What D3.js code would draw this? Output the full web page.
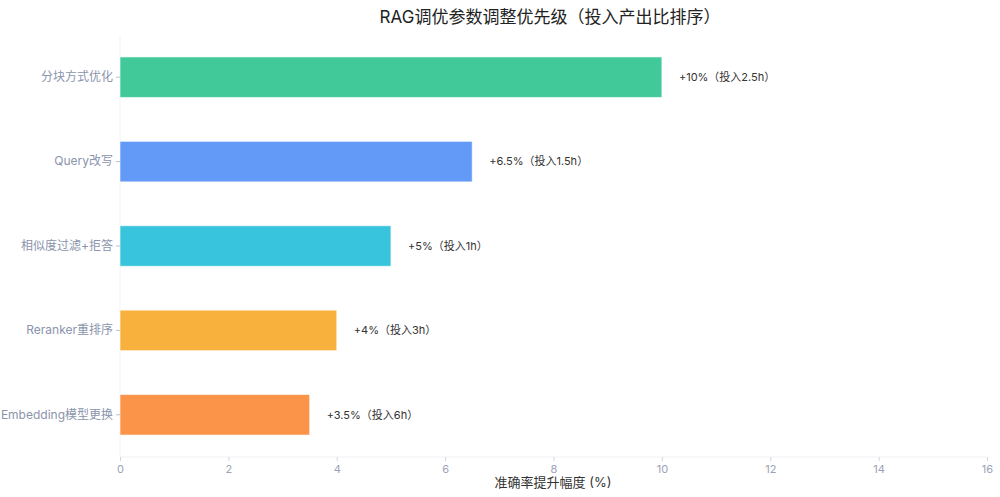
<!DOCTYPE html>
<html><head><meta charset="utf-8">
<script src="https://cdn.jsdelivr.net/npm/d3@7"></script>
<style>body{margin:0;background:#fff;font-family:Inter,"Noto Sans CJK SC",sans-serif}</style>
</head><body><svg width="1000" height="497"></svg>
<script>
const categories = ["分块方式优化", "Query改写", "相似度过滤+拒答", "Reranker重排序", "Embedding模型更换"];
const gains = [10, 6.5, 5, 4, 3.5];
const labels = ["+10%（投入2.5h）", "+6.5%（投入1.5h）", "+5%（投入1h）", "+4%（投入3h）", "+3.5%（投入6h）"];
const colors = ["#41c999", "#6399f7", "#39c4dd", "#f8b13d", "#fb9348"];
const xTicks = [0, 2, 4, 6, 8, 10, 12, 14, 16];

const svg = d3.select("svg");
const x = d3.scaleLinear().domain([0, 16]).range([120, 987]);
const y = d3.scaleBand().domain(categories).range([35, 457]).paddingInner(0.52).paddingOuter(0.26);

// faint gridlines
svg.append("line").attr("x1", 120).attr("x2", 120).attr("y1", 35).attr("y2", 457).attr("stroke", "#f1f3f6");
svg.append("line").attr("x1", 120).attr("x2", 987).attr("y1", 457).attr("y2", 457).attr("stroke", "#eef1f5");

svg.append("g").selectAll("rect").data(categories).join("rect")
  .attr("x", x(0)).attr("y", d => y(d))
  .attr("width", (d, i) => x(gains[i]) - x(0)).attr("height", y.bandwidth())
  .attr("fill", (d, i) => colors[i]).attr("stroke", "#fff").attr("stroke-opacity", 0.6);

svg.append("g").selectAll("text").data(categories).join("text")
  .attr("x", (d, i) => x(gains[i]) + 17).attr("y", d => y(d) + y.bandwidth() / 2)
  .attr("dy", "0.35em").attr("font-size", 11).attr("fill", "#333")
  .text((d, i) => labels[i]);

const yAxis = svg.append("g").attr("transform", "translate(120,0)")
  .call(d3.axisLeft(y).tickSize(4).tickPadding(3));
yAxis.select(".domain").remove();
yAxis.selectAll("line").attr("stroke", "#b8c0d0");
yAxis.selectAll("text").attr("font-size", 12).attr("fill", "#8a94ac").attr("font-family", "Inter,'Noto Sans CJK SC'");

const xAxis = svg.append("g").attr("transform", "translate(0,457)")
  .call(d3.axisBottom(x).tickValues(xTicks).tickSize(4).tickPadding(4));
xAxis.select(".domain").remove();
xAxis.selectAll("line").attr("stroke", "#d0d6e0");
xAxis.selectAll("text").attr("font-size", 11).attr("fill", "#9aa3b8").attr("font-family", "Inter");

svg.append("text").attr("x", 553).attr("y", 487).attr("text-anchor", "middle")
  .attr("font-size", 13).attr("fill", "#333").text("准确率提升幅度 (%)");
svg.append("text").attr("x", 550).attr("y", 23).attr("text-anchor", "middle")
  .attr("font-size", 17).attr("fill", "#222").text("RAG调优参数调整优先级（投入产出比排序）");
</script></body></html>
